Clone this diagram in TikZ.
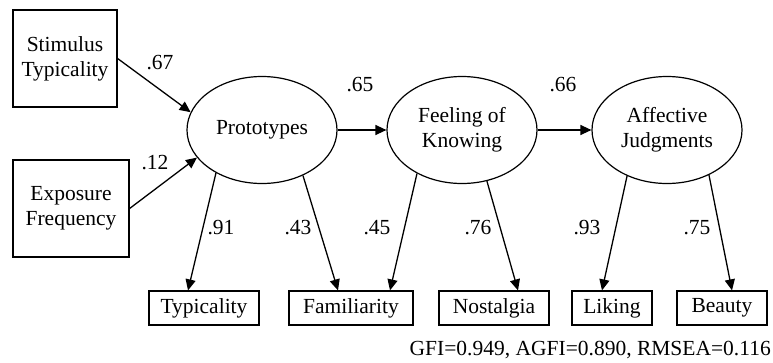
\documentclass[tikz,border=0pt]{standalone}
\usepackage{fontspec}
\setmainfont{Liberation Serif}
\usetikzlibrary{arrows.meta,calc,shapes.geometric}
\begin{document}
\begin{tikzpicture}[x=1pt,y=-1pt,
  every node/.style={font=\fontsize{21.5pt}{25pt}\selectfont},
  obs/.style={draw,line width=1.2pt,rectangle,inner sep=0pt,align=center},
  lat/.style={draw,line width=1.2pt,ellipse,inner sep=0pt,minimum width=150pt,minimum height=107pt,align=center},
  path/.style={line width=1.3pt,-{Triangle[length=11pt,width=10pt]}},
  coef/.style={inner sep=0pt,anchor=center}]
\useasboundingbox (0,0) rectangle (773,362);
% exogenous observed
\node[obs,minimum width=104pt,minimum height=97pt] (stim) at (65,58.5) {Stimulus\\Typicality};
\node[obs,minimum width=116pt,minimum height=97pt] (expo) at (71,208.5) {Exposure\\Frequency};
% latent
\node[lat] (proto) at (262,130) {Prototypes};
\node[lat] (feel) at (462,130) {Feeling of\\Knowing};
\node[lat] (aff) at (667,130) {Affective\\Judgments};
% indicators
\node[obs,minimum width=110pt,minimum height=34pt] (typ) at (204,308) {Typicality};
\node[obs,minimum width=124pt,minimum height=34pt] (fam) at (351,308) {Familiarity};
\node[obs,minimum width=110pt,minimum height=34pt] (nos) at (494,308) {Nostalgia};
\node[obs,minimum width=80pt,minimum height=34pt] (lik) at (612,308) {Liking};
\node[obs,minimum width=90pt,minimum height=34pt] (bea) at (722,308) {Beauty};
% structural paths
\draw[path] (stim.east) -- (proto.166);
\draw[path] (expo.east) -- (proto.203);
\draw[path] (proto.east) -- (feel.west);
\draw[path] (feel.east) -- (aff.west);
% measurement paths
\draw[path] (proto.223) -- ($(typ.north)+(-16,0)$);
\draw[path] (proto.312) -- ($(fam.north)+(-13,0)$);
\draw[path] (feel.224) -- ($(fam.north)+(39,0)$);
\draw[path] (feel.296) -- ($(nos.north)+(24,0)$);
\draw[path] (aff.229) -- ($(lik.north)+(-10,0)$);
\draw[path] (aff.313) -- ($(bea.north)+(10,0)$);
% coefficients
\node[coef] (c67) at (160,63) {.67};
\node[coef] (c12) at (155,163) {.12};
\node[coef] (c65) at (360,85) {.65};
\node[coef] (c66) at (563,85) {.66};
\node[coef] (c91) at (221,228) {.91};
\node[coef] (c43) at (298,228) {.43};
\node[coef] (c45) at (377,228) {.45};
\node[coef] (c76) at (478,228) {.76};
\node[coef] (c93) at (587,228) {.93};
\node[coef] (c75) at (697,228) {.75};
% fit
\node[inner sep=0pt,anchor=base east] (fit) at (771,355) {GFI=0.949, AGFI=0.890, RMSEA=0.116};
\end{tikzpicture}
\end{document}
